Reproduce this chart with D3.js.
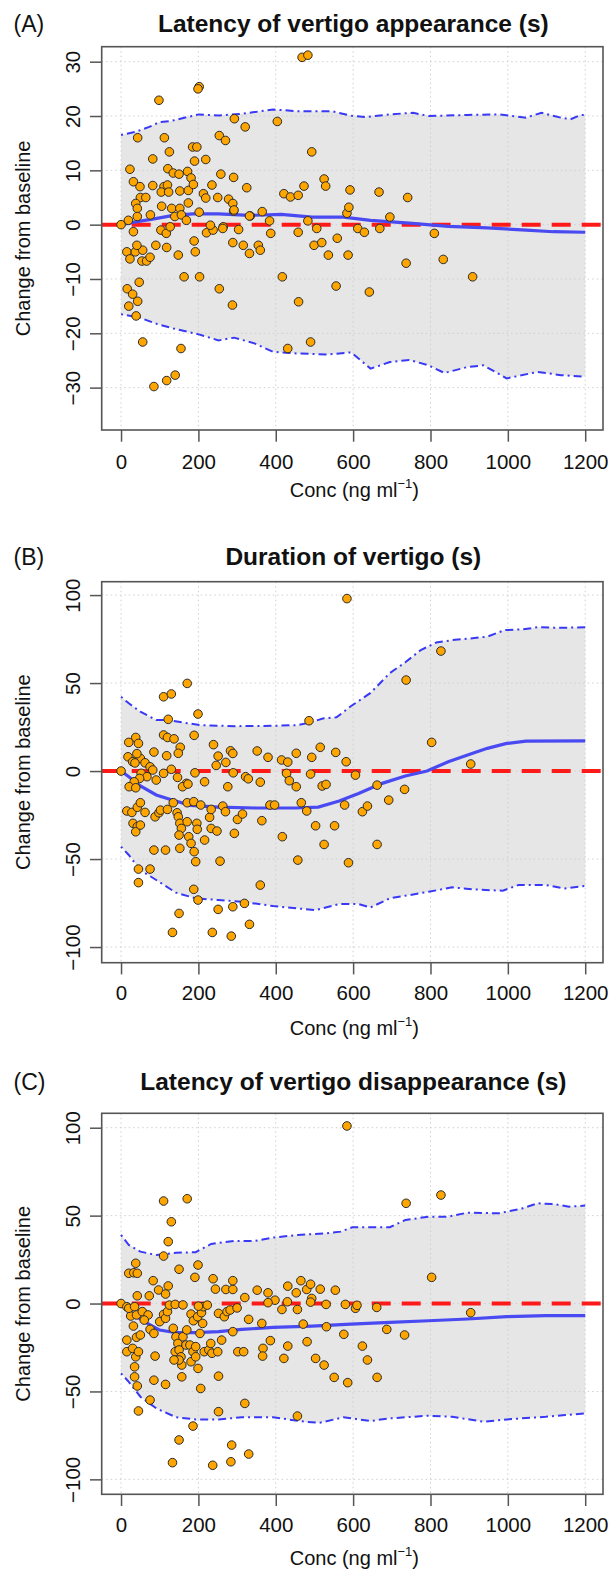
<!DOCTYPE html>
<html>
<head>
<meta charset="utf-8">
<script src="https://cdnjs.cloudflare.com/ajax/libs/d3/7.8.5/d3.min.js"></script>
<style>
  body { margin: 0; background: #fff; }
  svg { display: block; font-family: "Liberation Sans", Arial, sans-serif; }
</style>
</head>
<body>
<div id="chart"></div>
<script>
// tick values
var concTicks = [0, 200, 400, 600, 800, 1000, 1200];
var ticksA = [-30, -20, -10, 0, 10, 20, 30];
var ticksBC = [-100, -50, 0, 50, 100];

// (A) latency of vertigo appearance: [conc, change]
var pointsA = [[98,22.9],[202,25.4],[199,25.0],[43,16.0],[112,16.0],[23,10.2],[82,12.1],[125,13.4],[185,14.3],[196,14.3],
  [190,11.7],[219,12.0],[254,16.4],[270,15.5],[293,19.5],[321,18.0],[258,9.3],[291,8.7],[325,6.8],[121,10.3],
  [135,9.5],[150,9.3],[172,9.8],[181,8.6],[32,7.9],[49,7.0],[82,7.2],[111,7.0],[120,7.3],[104,6.0],
  [123,6.0],[152,6.2],[174,6.3],[187,7.4],[235,7.3],[50,5.0],[64,5.0],[38,3.9],[42,3.0],[105,3.4],
  [131,3.0],[152,3.0],[174,4.0],[213,5.7],[219,4.9],[250,5.0],[278,4.7],[289,3.9],[291,2.5],[202,2.3],
  [76,1.8],[42,1.5],[334,1.6],[0,0],[19,0.8],[139,1.5],[156,1.8],[169,0.8],[32,-1.3],[103,-1.0],
  [117,-1.6],[127,-0.4],[221,-1.5],[238,-1.0],[264,-0.4],[304,-0.9],[15,-5.0],[37,-5.0],[56,-4.7],[23,-6.3],
  [54,-6.7],[66,-6.7],[75,-6.0],[41,-3.8],[90,-3.8],[118,-4.2],[148,-5.6],[189,-3.0],[192,-5.0],[163,-9.6],
  [203,-9.6],[47,-10.6],[16,-11.8],[30,-12.8],[43,-14.1],[20,-15.0],[39,-16.8],[254,-11.8],[288,-14.8],[56,-21.6],
  [155,-22.8],[85,-29.8],[118,-28.7],[140,-27.7],[289,-3.3],[316,-3.8],[332,-5.3],[355,-3.8],[360,-4.7],[404,19.0],
  [468,30.8],[483,31.2],[493,13.4],[473,7.1],[525,8.4],[529,7.1],[421,5.7],[438,5.1],[458,5.4],[592,6.4],
  [667,6.0],[741,5.0],[365,2.4],[384,0.7],[387,-1.6],[483,0.7],[458,-1.4],[506,-0.7],[499,-3.8],[519,-3.3],
  [536,-5.6],[559,-2.5],[584,2.1],[589,3.2],[587,-5.6],[612,-0.7],[629,-1.4],[642,-12.4],[669,-0.7],[695,1.4],
  [737,-7.1],[810,-1.6],[833,-6.4],[909,-9.6],[417,-9.6],[431,-22.8],[459,-14.2],[490,-21.6],[556,-11.3],[231,-0.1],
  [263,-0.7],[332,1.6],[292,2.7]];
var upperA = [[0,16.5],[38,17.1],[73,18.0],[100,18.9],[130,19.1],[171,19.8],[201,20.3],[252,20.1],[312,20.4],[393,21.2],
  [453,20.9],[544,20.9],[599,20.0],[634,19.8],[695,20.3],[755,20.6],[795,20.0],[896,20.2],[977,20.3],[1047,19.7],
  [1087,20.6],[1137,19.7],[1162,19.4],[1188,20.2],[1200,20.2]];
var medianA = [[0,0],[38,0.5],[89,1.1],[135,1.7],[186,2.0],[252,2.0],[332,1.7],[414,1.9],[494,1.4],[575,1.4],
  [645,0.8],[745,0.3],[846,-0.3],[947,-0.6],[1047,-1.0],[1118,-1.3],[1200,-1.4]];
var lowerA = [[0,-16.5],[48,-17.1],[89,-18.2],[135,-19.1],[201,-20.2],[252,-21.3],[292,-20.8],[343,-21.8],[393,-23.4],[453,-23.7],
  [534,-23.9],[595,-23.5],[645,-26.5],[695,-25.3],[745,-24.9],[795,-25.9],[836,-27.3],[896,-26.2],[937,-25.9],[997,-28.3],
  [1077,-27.1],[1137,-27.7],[1200,-28.0]];

// (B) duration of vertigo
var pointsB = [[584,98],[827,68.2],[737,51.7],[171,49.8],[110,42.2],[130,43.8],[199,32.4],[122,29.4],[486,28.6],[110,20.5],
  [120,19.1],[137,18.3],[189,20.3],[20,16.3],[38,19.1],[45,15.7],[85,10.8],[153,13.5],[148,10.1],[118,8.7],
  [239,15.0],[251,8.5],[246,3.2],[283,11.5],[289,10.0],[271,4.9],[352,11.4],[380,7.8],[415,6.3],[431,5.1],
  [453,10.1],[493,7.8],[515,13.5],[555,10.6],[582,5.3],[18,8.1],[30,5.3],[50,7.2],[62,4.7],[75,2.4],
  [82,0.6],[41,9.9],[36,4.6],[0,0],[130,1.0],[191,-1.0],[216,-6.1],[276,-8.9],[290,-1.0],[322,-3.2],
  [329,-4.4],[360,-6.3],[428,-1.3],[435,-5.5],[453,-8.9],[490,-1.7],[520,-8.5],[530,-7.6],[606,-2.3],[662,-8.0],
  [733,-10.4],[904,4.0],[803,16.3],[110,-1.3],[146,-3.6],[169,-7.0],[159,-8.9],[173,-7.4],[52,-1.3],[67,-3.2],
  [48,-4.2],[34,-6.1],[21,-8.9],[38,-9.5],[91,-5.1],[15,-22.7],[28,-23.5],[42,-20.6],[50,-18],[62,-23.5],
  [88,-26],[31,-29.7],[42,-31.6],[38,-34.5],[50,-30.7],[98,-23.7],[102,-22.2],[120,-21.8],[135,-18],[145,-23.7],
  [148,-26],[152,-29.7],[156,-32.6],[150,-36.4],[171,-28.8],[175,-37.3],[181,-41.1],[189,-45.8],[193,-51.5],[196,-29.7],
  [197,-33.1],[171,-18],[188,-17.4],[206,-19.3],[216,-39.2],[229,-26.3],[233,-32.6],[248,-34.1],[233,-21.8],[263,-19.9],
  [270,-23.1],[256,-51.2],[293,-35.4],[301,-27.5],[314,-24.4],[364,-28.2],[385,-19.3],[397,-19.3],[417,-37.3],[466,-18],
  [480,-22.7],[503,-31.1],[525,-41.7],[552,-31.1],[457,-50.6],[578,-19.3],[624,-23.1],[637,-19.9],[588,-52.1],[662,-41.7],
  [692,-16.5],[45,-55.7],[75,-55.7],[85,-44.9],[115,-44.9],[45,-63.4],[152,-43.9],[188,-67.2],[199,-73.3],[150,-80.9],
  [133,-91.7],[251,-78.6],[289,-77.1],[319,-75.2],[236,-91.7],[285,-93.8],[332,-87.1],[360,-64.8]];
var upperB = [[0,42.2],[20,38.5],[50,33.7],[91,29.0],[122,29.0],[163,27.5],[204,26.1],[295,25.5],[396,25.7],[457,26.1],
  [487,27.5],[524,30.0],[557,30.5],[594,36.8],[645,44.4],[695,55.7],[735,61.8],[775,68.8],[815,73.0],[856,74.4],
  [896,75.2],[947,76.4],[992,80.1],[1037,80.5],[1077,81.7],[1118,81.5],[1158,81.5],[1200,81.7]];
var medianB = [[0,0],[20,-3.2],[50,-8.5],[91,-13.6],[132,-16.5],[180,-19.5],[250,-20.5],[350,-21],[450,-21],[510,-20.5],
  [564,-17],[614,-12.7],[675,-7.0],[735,-2.8],[791,0],[846,5.3],[896,9.1],[947,12.9],[997,15.7],[1047,17.0],[1200,17.2]];
var lowerB = [[0,-43],[20,-47.7],[50,-56.3],[91,-61.9],[142,-69.1],[193,-72.3],[252,-73.3],[312,-74.2],[393,-76.7],[453,-78.0],
  [503,-79.0],[564,-75.6],[614,-75.6],[645,-77.5],[695,-72.3],[745,-70.5],[795,-68.6],[856,-66.1],[916,-67.3],[987,-68.0],
  [1027,-64.8],[1098,-64.8],[1148,-66.7],[1200,-65.3]];

// (C) latency of vertigo disappearance
var pointsC = [[584,101],[827,61.7],[737,57],[803,14.9],[110,58.3],[171,59.6],[130,46.5],[122,35.2],[110,27.0],[150,19.5],
  [199,21.9],[191,14.9],[38,22.9],[20,17.2],[33,17.5],[42,17.2],[83,13],[97,7.7],[122,10.0],[115,5.4],
  [42,4.4],[73,4.4],[238,14.1],[244,8.2],[271,8.0],[289,8.0],[289,13.0],[320,3.4],[352,7.6],[380,6.1],
  [431,9.9],[453,6.1],[465,13],[480,8.0],[490,11],[493,2.9],[515,8.2],[554,7.6],[398,1.9],[0,0],
  [15,-1.8],[25,-7.1],[20,-2.7],[35,-1.8],[40,-6.5],[55,-4.6],[70,-6.5],[60,-9.4],[75,-14.7],[85,-17],
  [100,-10.3],[110,-6.2],[115,-8.4],[120,-4.6],[125,-0.9],[15,-20.8],[15,-27.4],[30,-25.5],[35,-36],[35,-41.7],
  [38,-30.3],[42,-46.9],[40,-19.2],[45,-27.4],[50,-17.9],[32,-12.8],[75,-54.9],[88,-29.9],[85,-43.6],[115,-46],
  [45,-61.1],[135,-14.1],[142,-18.9],[147,-22.7],[140,-27.4],[150,-26.4],[155,-30.3],[157,-35],[157,-41.7],[150,-32.1],
  [137,-32.1],[160,-18.9],[170,-15],[168,-23.6],[178,-23.6],[186,-27.4],[181,-33.1],[193,-24.5],[193,-30.3],[199,-36.9],
  [204,-17],[206,-48.3],[211,-11.3],[181,-6],[187,-9.8],[198,-7.5],[208,-5.2],[213,-1.8],[223,-0.9],[215,-27.4],
  [227,-26.4],[232,-22.7],[235,-28.3],[250,-27.4],[260,-20.8],[252,-5.6],[267,-7.5],[274,-4.6],[282,-3.7],[289,-16.0],
  [302,-27.4],[317,-27.4],[320,-56.8],[330,-9],[252,-41.3],[252,-61.5],[364,-11.3],[367,-25.5],[366,-29.9],[386,-21.1],
  [416,-3.4],[421,-31.2],[431,-24.2],[456,-3.4],[471,-11.7],[481,-21.7],[503,-31.2],[525,-35],[531,-13.2],[551,-42],
  [576,-17.5],[586,-45],[606,-2.7],[624,-24.2],[637,-32.1],[662,-42],[661,-2.2],[687,-14.7],[733,-17.9],[904,-5.2],
  [456,-64],[186,-69.7],[150,-77.6],[133,-90.5],[237,-92],[286,-80.5],[284,-90],[330,-85.6],[140,-0.5],[160,-0.8],
  [200,-1.5],[300,-2.5],[380,0.5],[430,1.0],[490,0.8],[530,-0.5],[580,-0.5],[610,-1.0]];
var upperC = [[0,39.0],[20,33.3],[50,29.5],[91,27.6],[142,28.9],[193,29.2],[233,33.9],[294,35.6],[345,35.6],[396,37.6],
  [457,39.0],[528,39.9],[568,40.9],[598,43.4],[695,43.4],[735,47.5],[795,49.4],[846,49.4],[896,51.7],[977,51.3],
  [1037,54.1],[1077,57.0],[1118,56.6],[1158,55.1],[1200,55.7]];
var medianC = [[0,0],[30,-5.6],[60,-10.3],[100,-15.1],[142,-16.6],[193,-16.6],[252,-16],[312,-14.7],[393,-13.6],[494,-12.8],
  [594,-11.7],[695,-10.7],[795,-9.8],[896,-8.8],[997,-7.5],[1098,-6.9],[1200,-6.9]];
var lowerC = [[0,-39.7],[20,-44.5],[50,-53],[91,-59.6],[142,-64.7],[193,-65.9],[252,-65.9],[312,-64.7],[393,-64.7],[474,-67.2],
  [514,-67.8],[575,-64.7],[645,-66.8],[695,-65.3],[795,-63.8],[856,-64.4],[937,-67.2],[997,-65.9],[1098,-64.4],[1148,-63.4],
  [1200,-62.5]];

var width = 611, height = 1572;

var svg = d3.select("#chart")
  .append("svg")
    .attr("width", width)
    .attr("height", height);

var panels = [
  {tag: "(A)", title: "Latency of vertigo appearance (s)", points: pointsA, upper: upperA, median: medianA, lower: lowerA,
   yTicks: ticksA, yDomain: [-37.8, 32.76], top: 46.7, bottom: 430, titleY: 32, labelY: 38.5, xTitleY: 67},
  {tag: "(B)", title: "Duration of vertigo (s)", points: pointsB, upper: upperB, median: medianB, lower: lowerB,
   yTicks: ticksBC, yDomain: [-108.9, 107.6], top: 581.7, bottom: 962.7, titleY: 565, labelY: 37.5, xTitleY: 72},
  {tag: "(C)", title: "Latency of vertigo disappearance (s)", points: pointsC, upper: upperC, median: medianC, lower: lowerC,
   yTicks: ticksBC, yDomain: [-108.5, 108.2], top: 1113.3, bottom: 1494.3, titleY: 1090, labelY: 37.5, xTitleY: 71}
];

var x = d3.scaleLinear().domain([-50, 1246]).range([101.7, 603]);
var left = x.range()[0], right = x.range()[1];

panels.forEach(function(p, i) {
  var y = d3.scaleLinear().domain(p.yDomain).range([p.bottom, p.top]);
  var g = svg.append("g");

  g.append("clipPath").attr("id", "clip" + i)
    .append("rect")
      .attr("x", left).attr("y", p.top)
      .attr("width", right - left).attr("height", p.bottom - p.top);

  var plot = g.append("g").attr("clip-path", "url(#clip" + i + ")");
  var line = d3.line().x(function(d) { return x(d[0]); }).y(function(d) { return y(d[1]); });

  // prediction band
  plot.append("path")
    .attr("d", line(p.upper.concat(p.lower.slice().reverse())) + "Z")
    .attr("fill", "#e6e6e6");

  // dotted grid
  plot.selectAll(".vgrid").data(concTicks).enter().append("line")
    .attr("x1", function(d) { return x(d); }).attr("x2", function(d) { return x(d); })
    .attr("y1", p.top).attr("y2", p.bottom)
    .attr("stroke", "#cfcfcf").attr("stroke-width", 1).attr("stroke-dasharray", "1.5,3");
  plot.selectAll(".hgrid").data(p.yTicks).enter().append("line")
    .attr("x1", left).attr("x2", right)
    .attr("y1", function(d) { return y(d); }).attr("y2", function(d) { return y(d); })
    .attr("stroke", "#cfcfcf").attr("stroke-width", 1).attr("stroke-dasharray", "1.5,3");

  // no-change reference line
  plot.append("line")
    .attr("x1", left).attr("x2", right)
    .attr("y1", y(0)).attr("y2", y(0))
    .attr("stroke", "#ff1a1a").attr("stroke-width", 4).attr("stroke-dasharray", "19,11");

  // median and 90% limits
  plot.append("path").datum(p.median)
    .attr("d", line).attr("fill", "none")
    .attr("stroke", "#4a4af2").attr("stroke-width", 3.2);
  [p.upper, p.lower].forEach(function(env) {
    plot.append("path").datum(env)
      .attr("d", line).attr("fill", "none")
      .attr("stroke", "#3838f5").attr("stroke-width", 2).attr("stroke-dasharray", "2,4,8,4");
  });

  // observations
  plot.selectAll("circle").data(p.points).enter().append("circle")
    .attr("cx", function(d) { return x(d[0]); })
    .attr("cy", function(d) { return y(d[1]); })
    .attr("r", 4.3)
    .attr("fill", "#ffa500")
    .attr("stroke", "#2a2a2a")
    .attr("stroke-width", 1);

  // axes
  var xAxis = g.append("g")
    .attr("transform", "translate(0," + p.bottom + ")")
    .call(d3.axisBottom(x).tickValues(concTicks).tickFormat(d3.format("d")).tickSize(11.7));
  xAxis.select(".domain").remove();
  xAxis.selectAll("line").attr("stroke", "#555").attr("stroke-width", 1.5);
  xAxis.selectAll("text")
    .attr("y", p.labelY).attr("dy", 0)
    .style("font-size", "20.5px").style("font-family", "'Liberation Sans', Arial, sans-serif")
    .attr("fill", "#111");

  var yAxis = g.append("g")
    .attr("transform", "translate(" + left + ",0)")
    .call(d3.axisLeft(y).tickValues(p.yTicks).tickFormat(d3.format("d")).tickSize(11.7));
  yAxis.select(".domain").remove();
  yAxis.selectAll("line").attr("stroke", "#555").attr("stroke-width", 1.5);
  yAxis.selectAll("text")
    .attr("x", 0).attr("y", -22).attr("dy", 0)
    .attr("transform", "rotate(-90)")
    .attr("text-anchor", "middle")
    .style("font-size", "20.5px").style("font-family", "'Liberation Sans', Arial, sans-serif")
    .attr("fill", "#111");

  // box
  g.append("rect")
    .attr("x", left).attr("y", p.top)
    .attr("width", right - left).attr("height", p.bottom - p.top)
    .attr("fill", "none").attr("stroke", "#555").attr("stroke-width", 1.6);

  // titles
  g.append("text")
    .attr("x", (left + right) / 2 + 1).attr("y", p.titleY)
    .attr("text-anchor", "middle")
    .style("font-size", "24.5px").style("font-weight", "bold")
    .attr("fill", "#111")
    .text(p.title);
  g.append("text")
    .attr("x", 13.6).attr("y", p.titleY)
    .style("font-size", "23px")
    .attr("fill", "#111")
    .text(p.tag);

  var xt = g.append("text")
    .attr("x", (left + right) / 2 + 2).attr("y", p.bottom + p.xTitleY)
    .attr("text-anchor", "middle")
    .style("font-size", "20px")
    .attr("fill", "#111");
  xt.append("tspan").text("Conc (ng ml");
  xt.append("tspan").attr("dy", -9).style("font-size", "13px").text("\u22121");
  xt.append("tspan").attr("dy", 9).text(")");

  g.append("text")
    .attr("transform", "translate(30," + ((p.top + p.bottom) / 2) + ") rotate(-90)")
    .attr("text-anchor", "middle")
    .style("font-size", "20px")
    .attr("fill", "#111")
    .text("Change from baseline");
});
</script>
</body>
</html>
